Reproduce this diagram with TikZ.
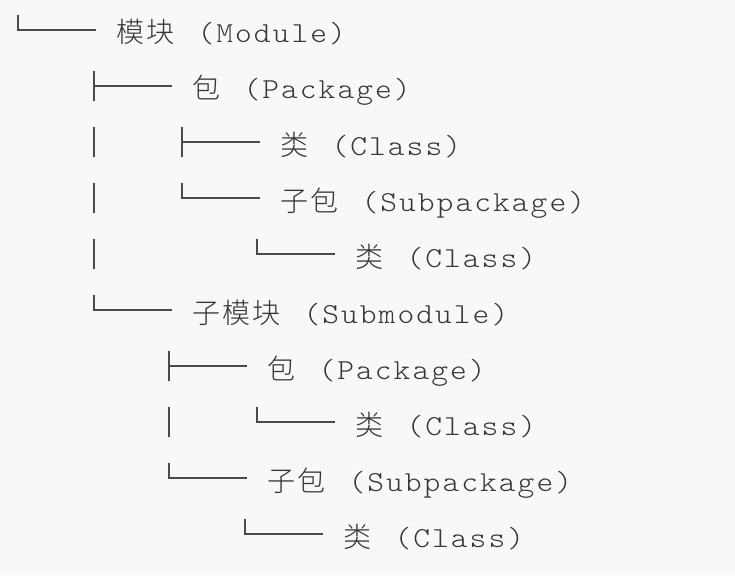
\documentclass[tikz,border=0pt]{standalone}
\usepackage{fontspec}
\newfontfamily\cjk{Noto Sans CJK SC Light}
\newfontfamily\monof{lmmonolt10-regular}[Extension=.otf,FakeStretch=1.1]
\definecolor{bg}{HTML}{F7F8FA}
\definecolor{txt}{HTML}{363636}
\definecolor{ln}{HTML}{4A4A4A}
\def\cjx#1{\ifx#1\relax\else\makebox[30pt][l]{#1}\expandafter\cjx\fi}
\def\latx#1{\ifx#1\relax\else\makebox[18.8pt]{#1}\expandafter\latx\fi}
\newcommand\entry[2]{{\cjk\cjx#1\relax}\hspace{19.8pt}{\monof\fontsize{29pt}{30pt}\selectfont\latx#2\relax}}
\tikzset{
  lbl/.style={anchor=base west, inner sep=0pt, text=txt, font=\fontsize{28pt}{30pt}\selectfont},
  br/.style={draw=ln, line width=1.1pt}
}
\begin{document}
\begin{tikzpicture}[x=1pt,y=-1pt]
\fill[bg] (0,0) rectangle (735,575);
\useasboundingbox (0,0) rectangle (735,575);
% texts
\node[lbl] (t1) at (116.5,43) {\entry{模块}{(Module)}};
\node[lbl] (t2) at (192.5,99) {\entry{包}{(Package)}};
\node[lbl] (t3) at (280.5,155) {\entry{类}{(Class)}};
\node[lbl] (t4) at (280.5,211) {\entry{子包}{(Subpackage)}};
\node[lbl] (t5) at (355.5,267) {\entry{类}{(Class)}};
\node[lbl] (t6) at (192.5,323) {\entry{子模块}{(Submodule)}};
\node[lbl] (t7) at (267.5,379) {\entry{包}{(Package)}};
\node[lbl] (t8) at (355.5,435) {\entry{类}{(Class)}};
\node[lbl] (t9) at (267.5,491) {\entry{子包}{(Subpackage)}};
\node[lbl] (t10) at (343.5,547) {\entry{类}{(Class)}};
% tree branches
\draw[br] (18,15) |- (96,30);
\draw[br] (94,71) -- (94,101); \draw[br] (94,86) -- (172,86);
\draw[br] (94,127) -- (94,157);
\draw[br] (182,127) -- (182,157); \draw[br] (182,142) -- (260,142);
\draw[br] (94,183) -- (94,213);
\draw[br] (182,183) |- (260,198);
\draw[br] (94,239) -- (94,269);
\draw[br] (257,239) |- (335,254);
\draw[br] (94,295) |- (172,310);
\draw[br] (169,351) -- (169,381); \draw[br] (169,366) -- (247,366);
\draw[br] (169,407) -- (169,437);
\draw[br] (257,407) |- (335,422);
\draw[br] (169,463) |- (247,478);
\draw[br] (245,519) |- (323,534);
\end{tikzpicture}
\end{document}
